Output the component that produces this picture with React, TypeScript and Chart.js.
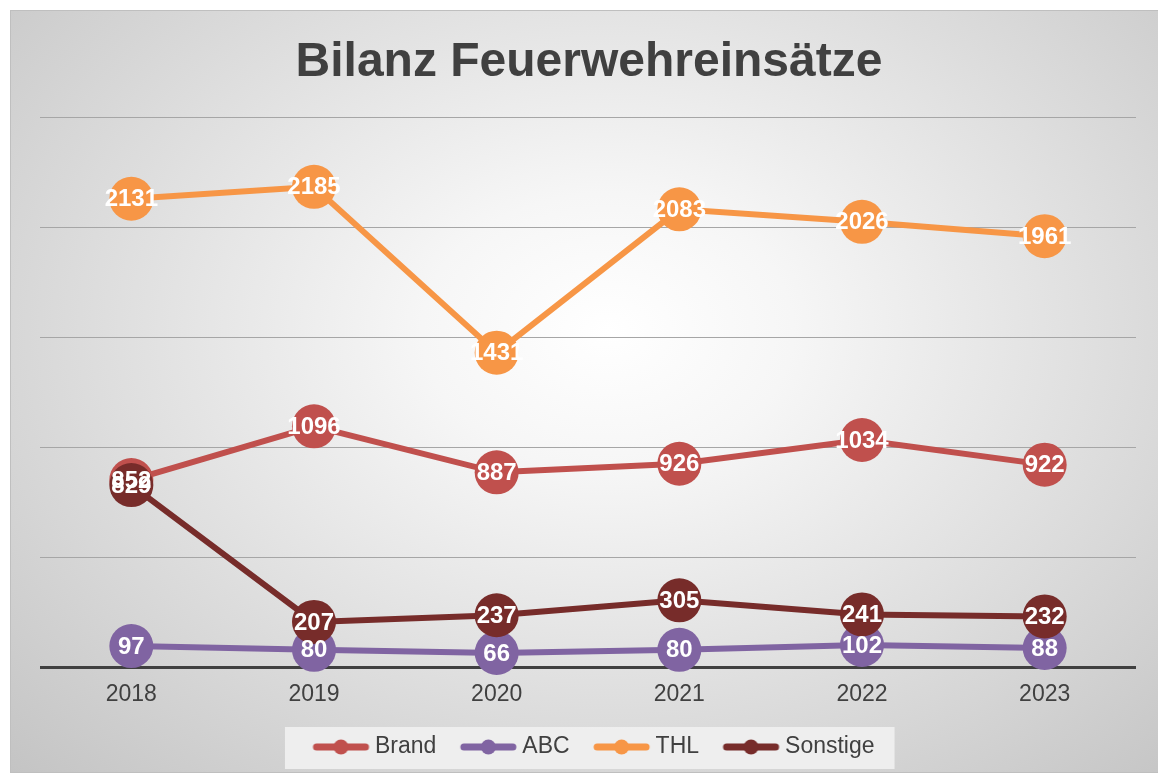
import React, { useEffect, useRef } from 'react';
import { Chart, registerables } from 'chart.js';

Chart.register(...registerables);

const years = ['2018', '2019', '2020', '2021', '2022', '2023'];
const brand = [852, 1096, 887, 926, 1034, 922];
const abc = [97, 80, 66, 80, 102, 88];
const thl = [2131, 2185, 1431, 2083, 2026, 1961];
const sonstige = [829, 207, 237, 305, 241, 232];

const seriesNames = ['Brand', 'ABC', 'THL', 'Sonstige'];
const seriesValues = [brand, abc, thl, sonstige];
const seriesColors = ['#C0504D', '#8064A2', '#F79646', '#772C2A'];

const yMin = 0;
const yMax = 2500;
const yStep = 500;

const FONT = '"Liberation Sans", Arial, Helvetica, sans-serif';

// legend symbol geometry
const SYM_W = 76;
const SYM_H = 20;
const SYM_X0 = 17.5;
const SYM_X1 = 73.5;

function makeSymbol(color: string): HTMLCanvasElement {
  const c = document.createElement('canvas');
  c.width = SYM_W;
  c.height = SYM_H;
  const g = c.getContext('2d')!;
  g.strokeStyle = color;
  g.lineWidth = 7;
  g.lineCap = 'round';
  g.beginPath();
  g.moveTo(SYM_X0 + 3.5, SYM_H / 2);
  g.lineTo(SYM_X1 - 3.5, SYM_H / 2);
  g.stroke();
  g.fillStyle = color;
  g.beginPath();
  g.arc((SYM_X0 + SYM_X1) / 2, SYM_H / 2, 7.5, 0, Math.PI * 2);
  g.fill();
  return c;
}

const legendBg = {
  id: 'legendBg',
  beforeDraw(chart: any) {
    const lg = chart.legend;
    if (!lg || !lg.legendHitBoxes || !lg.legendHitBoxes.length) return;
    const hb = lg.legendHitBoxes as any[];
    const left = Math.min(...hb.map((h) => h.left)) - 18.5;
    const right = Math.max(...hb.map((h) => h.left + h.width)) + 20;
    const top = Math.min(...hb.map((h) => h.top)) - 8.5;
    const bottom = Math.max(...hb.map((h) => h.top + h.height)) + 10.5;
    const ctx = chart.ctx;
    ctx.save();
    ctx.fillStyle = 'rgba(239,239,239,0.95)';
    ctx.fillRect(left, top, right - left, bottom - top);
    ctx.restore();
  },
};

const valueLabels = {
  id: 'valueLabels',
  afterDatasetsDraw(chart: any) {
    const ctx = chart.ctx;
    ctx.save();
    ctx.font = `bold 24px ${FONT}`;
    ctx.fillStyle = '#ffffff';
    ctx.textAlign = 'center';
    ctx.textBaseline = 'middle';
    chart.data.datasets.forEach((ds: any, i: number) => {
      const meta = chart.getDatasetMeta(i);
      meta.data.forEach((pt: any, j: number) => {
        ctx.fillText(String(ds.data[j]), pt.x, pt.y + 1);
      });
    });
    ctx.restore();
  },
};

export default function App() {
  const ref = useRef<HTMLCanvasElement>(null);

  useEffect(() => {
    if (!ref.current) return;
    const symbols = seriesColors.map((c) => makeSymbol(c));
    const datasets = seriesNames.map((name, i) => ({
      label: name,
      data: seriesValues[i],
      borderColor: seriesColors[i],
      backgroundColor: seriesColors[i],
      pointBackgroundColor: seriesColors[i],
      pointBorderColor: seriesColors[i],
      pointBorderWidth: 0,
      pointRadius: 22,
      pointHoverRadius: 22,
      borderWidth: 6,
      tension: 0,
      clip: false as any,
      order: seriesNames.length - i,
    }));
    const chart = new Chart(ref.current, {
      type: 'line',
      data: { labels: years, datasets },
      options: {
        responsive: false,
        animation: false,
        events: [],
        layout: { padding: { left: 29, right: 20, top: 0, bottom: 3.5 } },
        plugins: {
          title: {
            display: true,
            text: 'Bilanz Feuerwehreinsätze',
            color: '#404040',
            font: { family: FONT, size: 48, weight: 'bold' },
            padding: { top: 23, bottom: 26 },
          },
          legend: {
            position: 'bottom',
            labels: {
              usePointStyle: true,
              pointStyleWidth: 60,
              padding: 14.5,
              color: '#404040',
              font: { family: FONT, size: 23 },
              generateLabels: (ch: any) => {
                const items = (Chart.defaults.plugins.legend.labels as any).generateLabels(ch);
                return items.map((it: any) => ({ ...it, pointStyle: symbols[it.datasetIndex] }));
              },
              sort: (a: any, b: any) => a.datasetIndex - b.datasetIndex,
            },
          },
          tooltip: { enabled: false },
        },
        scales: {
          x: {
            offset: true,
            grid: { display: false, drawTicks: false },
            border: { display: false },
            ticks: { color: '#404040', font: { family: FONT, size: 23 }, padding: 13 },
          },
          y: {
            min: yMin,
            max: yMax,
            ticks: { display: false, stepSize: yStep },
            border: { display: false },
            grid: {
              drawTicks: false,
              color: (c: any) => (c.tick && c.tick.value === 0 ? '#404040' : '#a6a6a6'),
              lineWidth: (c: any) => (c.tick && c.tick.value === 0 ? 3 : 1),
            },
          },
        },
      } as any,
      plugins: [legendBg, valueLabels],
    });
    return () => chart.destroy();
  }, []);

  return (
    <div
      style={{
        position: 'absolute',
        left: 10,
        top: 10,
        width: 1148,
        height: 763,
        boxSizing: 'border-box',
        borderTop: '1px solid #bfbfbf',
        borderLeft: '1px solid #bfbfbf',
        borderBottom: '1px solid #bfbfbf',
        background:
          'radial-gradient(ellipse farthest-corner at 52% 42%, #ffffff 0%, #f6f6f6 22%, #c4c4c4 100%)',
        overflow: 'hidden',
      }}
    >
      <canvas ref={ref} width={1147} height={761} style={{ display: 'block' }} />
    </div>
  );
}
